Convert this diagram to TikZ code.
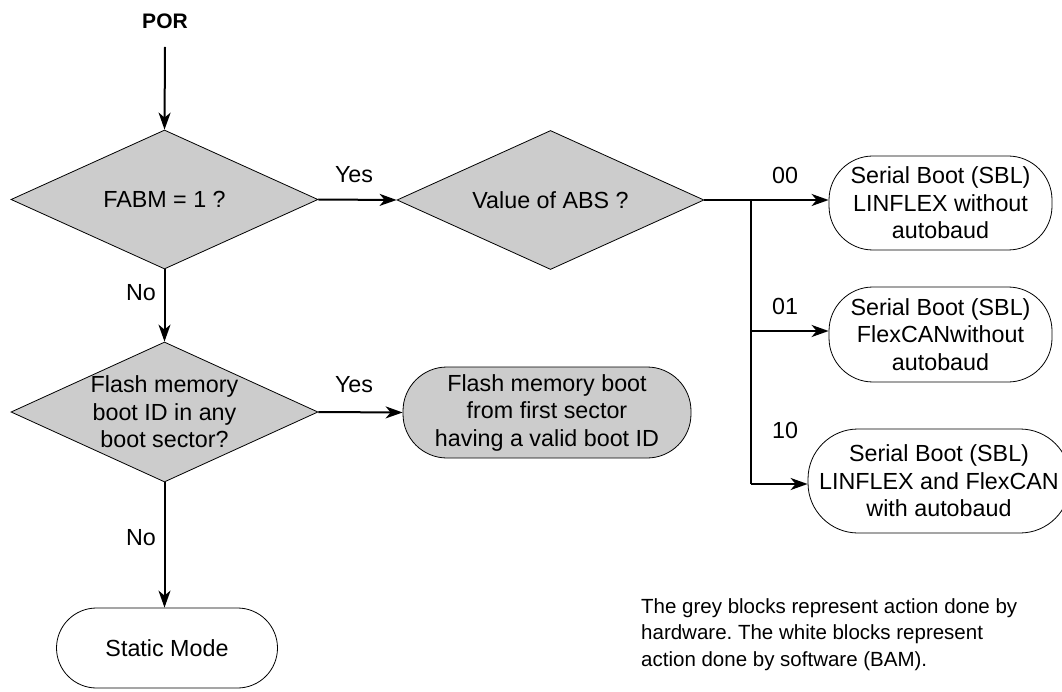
\documentclass[tikz,border=0pt]{standalone}
\usepackage{fontspec}
\setmainfont{Liberation Sans}
\usetikzlibrary{shapes.geometric,arrows.meta}
\definecolor{hwgrey}{RGB}{204,204,204}
\frenchspacing
\tikzset{
  dia/.style={diamond,draw=black,line width=0.8pt,fill=hwgrey,inner sep=0pt,minimum width=307pt,minimum height=139pt},
  dtext/.style={align=center,inner sep=0pt,font=\fontsize{23.3}{27.5}\selectfont},
  pill/.style={rectangle,draw=black,line width=0.8pt,rounded corners=44pt,align=center,inner sep=0pt,font=\fontsize{23.3}{27.5}\selectfont},
  lbl/.style={inner sep=0pt,font=\fontsize{23.3}{27.5}\selectfont},
  flow/.style={line width=2pt,-{Stealth[length=17pt,width=12pt,inset=5pt]}},
  busline/.style={line width=2pt},
}
\begin{document}
\begin{tikzpicture}[x=1pt,y=-1pt]
\useasboundingbox (0,0) rectangle (1062,692);
% start
\node[lbl,font=\fontsize{21}{25}\selectfont\bfseries] (por) at (165,21) {POR};
\coordinate (porstart) at (165,47);
% decisions
\node[dia] (fabm) at (164.5,199.5) {};
\node[dtext] (fabmt) at (fabm) {FABM = 1 ?};
\node[dia] (abs) at (550.5,200) {};
\node[dtext] (abst) at (abs) {Value of ABS ?};
\node[dia,minimum height=140pt] (flash) at (164.5,412) {};
\node[dtext] (flasht) at (flash) {Flash memory\\boot ID in any\\boot sector?};
% actions
\node[pill,fill=hwgrey,minimum width=288pt,minimum height=91pt] (fboot) at (547,412.5) {Flash memory boot\\from first sector\\having a valid boot ID};
\node[pill,fill=white,minimum width=221pt,minimum height=80pt,rounded corners=40pt] (static) at (167,648) {Static Mode};
\node[pill,fill=white,minimum width=223pt,minimum height=94pt] (sb1) at (940.5,203) {Serial Boot (SBL)\\LINFLEX without\\autobaud};
\node[pill,fill=white,minimum width=223pt,minimum height=95pt] (sb2) at (940.5,334.5) {Serial Boot (SBL)\\FlexCANwithout\\autobaud};
\node[pill,fill=white,minimum width=262pt,minimum height=104pt,rounded corners=50pt] (sb3) at (939,481) {Serial Boot (SBL)\\LINFLEX and FlexCAN\\with autobaud};
% bus coordinates
\coordinate (bustop) at (751,0 |- abs.east);
\coordinate (bus2) at (751,331);
\coordinate (bus3) at (751,484);
% connectors
\draw[flow] (porstart) -- (fabm.north);
\draw[flow] (fabm.east) -- (abs.west);
\draw[flow] (fabm.south) -- (flash.north);
\draw[flow] (flash.east) -- (fboot.west);
\draw[flow] (flash.south) -- (flash.south |- static.north);
\draw[flow] (abs.east) -- (abs.east -| sb1.west);
\draw[busline] (bustop) -- (bus3);
\draw[flow] (bus2) -- (bus2 -| sb2.west);
\draw[flow] (bus3) -- (bus3 -| sb3.west);
% labels
\node[lbl] (yes1) at (354,175) {Yes};
\node[lbl] (yes2) at (354,385) {Yes};
\node[lbl] (no1) at (141,293) {No};
\node[lbl] (no2) at (141,538) {No};
\node[lbl] (v00) at (785,175) {00};
\node[lbl] (v01) at (785,306) {01};
\node[lbl] (v10) at (785,430) {10};
% note
\node[anchor=north west,inner sep=0pt,align=left,font=\fontsize{20.5}{26.5}\selectfont] (note) at (641,598) {The grey blocks represent action done by\\hardware. The white blocks represent\\action done by software (BAM).};
\end{tikzpicture}
\end{document}
